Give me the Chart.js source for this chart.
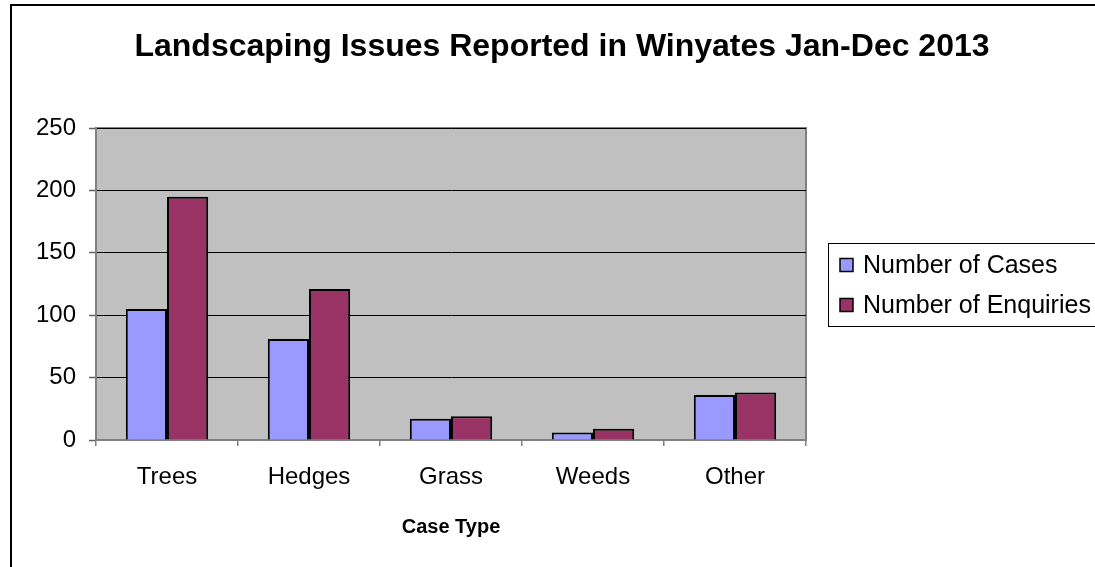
<!DOCTYPE html>
<html>
<head>
<meta charset="utf-8">
<script src="https://cdn.jsdelivr.net/npm/chart.js@4/dist/chart.umd.min.js"></script>
<style>
  html, body { margin: 0; padding: 0; background: #ffffff; }
  #wrap { width: 1095px; height: 567px; position: relative; }
</style>
</head>
<body>
<div id="wrap"><canvas id="c" width="1095" height="567"></canvas></div>
<script>
const chartTitle = "Landscaping Issues Reported in Winyates Jan-Dec 2013";
const xAxisTitle = "Case Type";
const categories = ["Trees", "Hedges", "Grass", "Weeds", "Other"];
const seriesNames = ["Number of Cases", "Number of Enquiries"];
const casesValues = [105, 81, 17, 6, 36];
const enquiriesValues = [195, 121, 19, 9, 38];
const yTicks = [0, 50, 100, 150, 200, 250];

const FONT = "'Liberation Sans', Arial, sans-serif";

const frame = {
  id: 'frame',
  beforeDraw(chart) {
    const ctx = chart.ctx;
    const a = chart.chartArea;
    ctx.save();
    ctx.fillStyle = '#ffffff';
    ctx.fillRect(0, 0, chart.width, chart.height);
    ctx.strokeStyle = '#000000';
    ctx.lineWidth = 2;
    ctx.strokeRect(11, 5, chart.width + 20, chart.height + 20);
    ctx.fillStyle = '#c0c0c0';
    ctx.fillRect(a.left, a.top, a.right - a.left, a.bottom - a.top);
    ctx.strokeStyle = '#808080';
    ctx.lineWidth = 2;
    ctx.strokeRect(a.left, a.top, a.right - a.left, a.bottom - a.top);
    ctx.restore();
  },
  afterDraw(chart) {
    const ctx = chart.ctx;
    ctx.save();
    ctx.fillStyle = '#000000';
    ctx.font = "bold 32px " + FONT;
    ctx.textAlign = 'center';
    ctx.textBaseline = 'middle';
    ctx.fillText(chartTitle, 562, 47);
    ctx.strokeStyle = '#000000';
    ctx.lineWidth = 1;
    ctx.strokeRect(828.5, 243.5, 300, 83);
    ctx.font = "25px " + FONT;
    ctx.textAlign = 'left';
    chart.data.datasets.forEach((ds, i) => {
      const cy = 265 + i * 40;
      ctx.fillStyle = ds.backgroundColor;
      ctx.fillRect(840, cy - 6.5, 13, 13);
      ctx.strokeStyle = '#000000';
      ctx.lineWidth = 1.5;
      ctx.strokeRect(840, cy - 6.5, 13, 13);
      ctx.fillStyle = '#000000';
      ctx.fillText(ds.label, 863, cy + 1);
    });
    ctx.restore();
  }
};

new Chart(document.getElementById('c'), {
  type: 'bar',
  data: {
    labels: categories,
    datasets: [
      { label: seriesNames[0], data: casesValues, backgroundColor: '#9999ff', borderColor: '#000000', borderWidth: 2 },
      { label: seriesNames[1], data: enquiriesValues, backgroundColor: '#993366', borderColor: '#000000', borderWidth: 2 }
    ]
  },
  options: {
    responsive: false,
    animation: false,
    devicePixelRatio: 1,
    layout: { padding: { left: 0, top: 128, right: 289, bottom: 0 } },
    datasets: { bar: { categoryPercentage: 0.58, barPercentage: 1.0 } },
    plugins: {
      legend: { display: false },
      title: { display: false },
      tooltip: { enabled: false }
    },
    scales: {
      x: {
        afterFit: s => { s.height = 127; },
        grid: { offset: true, drawOnChartArea: false, drawTicks: true, tickLength: 6, color: '#808080', lineWidth: 1.5 },
        border: { color: '#808080', width: 2 },
        ticks: { color: '#000000', font: { family: FONT, size: 24 }, padding: 17 },
        title: { display: true, text: xAxisTitle, color: '#000000', font: { family: FONT, size: 20, weight: 'bold' }, padding: { top: 28, bottom: 28 } }
      },
      y: {
        min: 0, max: 250,
        afterFit: s => { s.width = 96; },
        afterBuildTicks: s => { s.ticks = yTicks.map(v => ({ value: v })); },
        grid: { color: '#000000', lineWidth: 1, drawTicks: true, tickLength: 7, tickColor: '#606060', tickWidth: 1.5 },
        border: { color: '#808080', width: 2 },
        ticks: { color: '#000000', font: { family: FONT, size: 24 }, padding: 13 }
      }
    }
  },
  plugins: [frame]
});
</script>
</body>
</html>
